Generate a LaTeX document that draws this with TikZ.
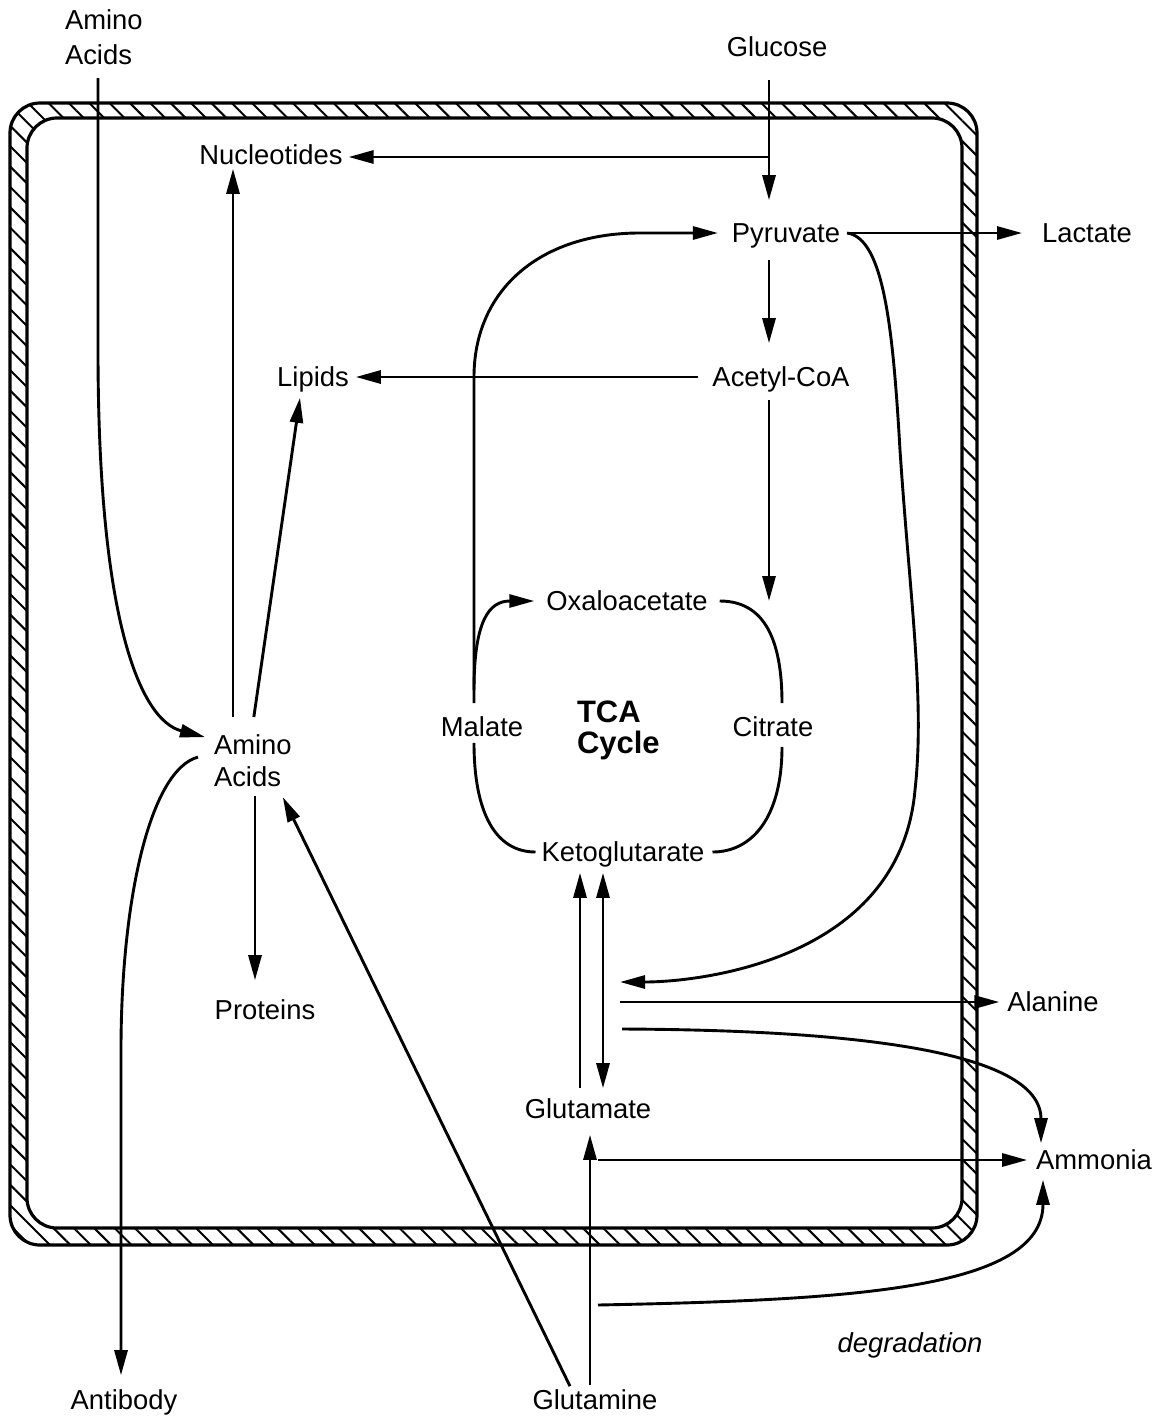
\documentclass[tikz,border=0pt]{standalone}
\usepackage{fontspec}
\setmainfont{Liberation Sans}
\usetikzlibrary{arrows.meta,patterns.meta}

\begin{document}
\begin{tikzpicture}[
            x=0.5pt, y=-0.5pt,
            met node/.style={inner sep=0pt, outer sep=0pt, font=\fontsize{13.7}{16.5}\selectfont, text height=9.8pt, text depth=0pt},
            two line/.style={inner sep=0pt, outer sep=0pt, align=left, anchor=north west},
            flow/.style={line width=1.45pt, -{Triangle[length=12.5pt,width=6.5pt]}},
            both flow/.style={line width=1.45pt, {Triangle[length=12.5pt,width=6.5pt]}-{Triangle[length=12.5pt,width=6.5pt]}},
            plain flow/.style={line width=1.45pt},
            wall/.style={line width=1.6pt, rounded corners=15pt},
            wall hatch/.style={pattern={Lines[angle=-45,distance=7.2pt,line width=1pt]}, rounded corners=15pt, even odd rule}]
    \useasboundingbox (0,0) rectangle (1154,1419);
    % cell membrane
    \path[wall hatch] (10,103) rectangle (977,1245) (27,118) rectangle (962,1228);
    \draw[wall] (10,103) rectangle (977,1245);
    \draw[wall] (27,118) rectangle (962,1228);
            % Define metabolites
    \node[met node] (glc) at (777,47) {Glucose};
    \node[met node] (nuc) at (271,155) {Nucleotides};
    \node[met node] (pyr) at (786,233) {Pyruvate};
    \node[met node] (lac) at (1087,233) {Lactate};
    \node[met node] (lip) at (313,377) {Lipids};
    \node[met node] (acc) at (781,377) {Acetyl-CoA};
    \node[met node] (oaa) at (627,601) {Oxaloacetate};
    \node[met node] (mal) at (482,727) {Malate};
    \node[met node] (cit) at (773,727) {Citrate};
    \node[met node] (akg) at (623,852) {Ketoglutarate};
    \node[met node] (prot) at (265,1010) {Proteins};
    \node[met node] (ala) at (1053,1002) {Alanine};
    \node[met node] (glu) at (588,1109) {Glutamate};
    \node[met node] (amm) at (1094,1160) {Ammonia};
    \node[met node] (gln) at (595,1400) {Glutamine};
    \node[met node] (ab) at (124,1400) {Antibody};
    \node[met node, font=\fontsize{13.7}{16.5}\selectfont\itshape] (deg) at (910,1343) {degradation};
    \node[two line, font=\fontsize{13.7}{17.5}\selectfont] (aaout) at (65,10) {Amino\\Acids};
    \node[two line, font=\fontsize{13.7}{16}\selectfont] (aain) at (214,735) {Amino\\Acids};
    \node[two line, font=\fontsize{15.5}{15.5}\selectfont\bfseries] (tca) at (577,701) {TCA\\Cycle};
            % guide points
    \coordinate (sp) at (769,157);
    \coordinate (stem) at (474,377);
    \coordinate (cx) at (782,725);
    \coordinate (kl) at (580,980);
    \coordinate (kr) at (603,980);
    \coordinate (pyrin) at (620,982);
    \coordinate (alaout) at (620,1002);
    \coordinate (ammout) at (622,1029);
    \coordinate (ammin) at (598,1160);
    \coordinate (gx) at (590,1250);
    \coordinate (deg0) at (598,1305);
    \coordinate (xt) at (98,350);
    \coordinate (xn) at (233,450);
    \coordinate (xp) at (255,900);
    \coordinate (xb) at (121,1050);
            % glycolysis
    \draw[flow] ([yshift=-11.5pt]glc.south -| sp) -- ([yshift=11.5pt]pyr.north -| sp);
    \draw[flow] (sp) -- ([xshift=3pt]nuc.east |- sp);
    \draw[flow] ([xshift=3.5pt]pyr.east) -- ([xshift=-10pt]lac.west);
    \draw[flow] ([yshift=-8.5pt]pyr.south -| sp) -- ([yshift=12pt]acc.north -| sp);
    \draw[flow] ([xshift=-7pt]acc.west) -- ([xshift=3.5pt]lip.east);
    \draw[flow] ([yshift=-6.5pt]acc.south -| sp) -- (sp |- oaa);
            % TCA cycle
    \draw[flow] ([yshift=7pt]mal.north -| stem) -- (stem) .. controls +(0,-87) and +(-100,0) .. ([xshift=-46pt]pyr.west) -- ([xshift=-7pt]pyr.west);
    \draw[flow] ([yshift=13.5pt]mal.north -| stem) .. controls +(0,-70) and +(-45,0) .. ([xshift=-6pt]oaa.west);
    \draw[plain flow] ([xshift=6pt]oaa.east) .. controls +(45,0) and +(0,-63) .. ([yshift=7pt]cit.north -| cx);
    \draw[plain flow] ([yshift=-5pt]cit.south -| cx) .. controls +(0,70) and +(40,0) .. ([xshift=4pt]akg.east);
    \draw[plain flow] ([xshift=-3pt]akg.west) .. controls +(-40,0) and +(0,70) .. ([yshift=-3pt]mal.south -| stem);
            % glutamine side
    \draw[flow] ([xshift=3.5pt]pyr.east) .. controls +(37,5) and (893,330) .. (900,450) .. controls (910,600) and (925,700) .. (915,790) .. controls (900,960) and (700,982) .. (pyrin);
    \draw[flow] (alaout) -- ([xshift=-4pt]ala.west);
    \draw[flow] (ammout) .. controls +(228,1) and +(0,-93) .. ([xshift=-26.5pt,yshift=3.5pt]amm.north);
    \draw[flow] ([yshift=5.5pt]glu.north -| kl) -- ([yshift=-5.5pt]akg.south -| kl);
    \draw[both flow] ([yshift=-5.5pt]akg.south -| kr) -- ([yshift=5.5pt]glu.north -| kr);
    \draw[flow] (ammin) -- ([xshift=-4.5pt]amm.west);
    \draw[flow] ([yshift=2.5pt]gln.north -| gx) -- ([yshift=-8pt]glu.south -| gx);
    \draw[flow] ([xshift=-12.5pt,yshift=2pt]gln.north) -- ([xshift=15pt,yshift=-5pt]aain.south);
    \draw[flow] (deg0) .. controls +(252,-5) and +(0,110) .. ([xshift=-25.5pt,yshift=-5pt]amm.south);
            % amino acids
    \draw[flow] ([yshift=-6.5pt]aaout.south -| xt) -- (xt) .. controls +(0,270) and +(-65,-17) .. ([xshift=-4.5pt,yshift=12pt]aain.west);
    \draw[flow] ([yshift=9pt]aain.north -| xn) -- ([yshift=-2pt]nuc.south -| xn);
    \draw[flow] ([xshift=0.5pt,yshift=9pt]aain.north) -- ([xshift=-6.5pt,yshift=-5.5pt]lip.south);
    \draw[flow] ([yshift=-4.5pt]aain.south -| xp) -- ([yshift=10pt]prot.north -| xp);
    \draw[flow] ([xshift=-8pt,yshift=2pt]aain.west) .. controls +(-48,13) and +(0,-150) .. (xb) -- ([yshift=7.5pt]ab.north -| xb);
\end{tikzpicture}
\end{document}
